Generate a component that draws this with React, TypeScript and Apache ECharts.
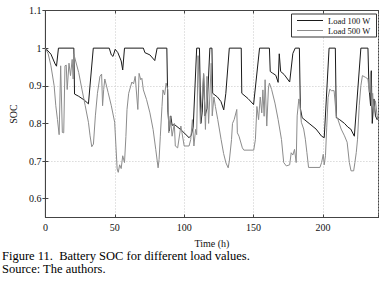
import React, { useEffect, useRef } from "react";
import * as echarts from "echarts";

const seriesNames = ["Load 100 W", "Load 500 W"];

// [time (h), SOC]
const load100: [number, number][] = [
  [0, 1.0], [4, 0.984], [7, 0.958], [8, 0.952], [9.4, 1.0], [20.5, 1.0], [21, 0.878], [24, 0.872],
  [28, 0.862], [31, 0.852], [34.5, 1.0], [46, 1.0], [47.5, 0.982], [48.7, 0.978], [50.3, 0.997],
  [52.2, 0.988], [54.6, 0.966], [55.7, 0.942], [57, 1.0], [70.6, 1.0], [71.7, 0.988], [75.3, 0.982],
  [78.8, 0.967], [80.5, 1.0], [87.5, 1.0], [88.3, 0.83], [89.3, 0.78], [90.3, 0.82], [91.3, 0.795],
  [93, 0.797], [98, 0.782], [103.5, 0.762], [105, 0.768], [106.5, 0.79], [109, 1.0], [111, 1.0],
  [112, 0.8], [113, 0.83], [114, 0.93], [115, 0.82], [116.5, 0.84], [118.5, 1.0], [120, 1.0],
  [120.5, 0.88], [124, 0.87], [126.5, 0.858], [128.5, 0.836], [130, 0.88], [132.5, 1.0], [141.1, 1.0],
  [141.5, 0.88], [146, 0.866], [150, 0.85], [154.3, 1.0], [161.4, 1.0], [162, 0.938], [163.5, 0.934],
  [166, 0.928], [167.7, 0.909], [168.5, 0.985], [169.5, 0.938], [172, 0.93], [176, 0.91],
  [178.3, 0.986], [180, 1.0], [183, 1.0], [183.7, 0.84], [185, 0.815], [190, 0.8], [195, 0.785],
  [199, 0.766], [200.9, 0.762], [204.4, 1.0], [208.9, 1.0], [209.6, 0.815], [212, 0.81],
  [215.5, 0.8], [218, 0.79], [220, 0.785], [222.6, 0.766], [227.3, 1.0], [232.4, 1.0], [233.1, 0.9],
  [234.3, 0.847], [234.8, 0.94], [235.5, 0.8], [236.7, 0.865], [237.8, 0.82], [239, 0.81], [240, 0.815],
];

const load500: [number, number][] = [
  [0, 1.0], [2, 0.985], [4, 0.953], [6.3, 0.9], [7.5, 0.847], [8.7, 0.81], [9.9, 0.77], [11, 0.953],
  [12.2, 0.776], [13.2, 0.775], [14.1, 0.953], [15, 0.955], [15.7, 0.89], [17, 0.96], [18.1, 0.927],
  [19.3, 0.97], [20, 0.918], [20.5, 0.984], [24, 0.935], [26.3, 0.891], [28.7, 0.847], [31, 0.803],
  [32.2, 0.767], [33.4, 0.738], [34.6, 0.745], [36, 0.82], [37.5, 0.88], [39.3, 0.925], [40.5, 0.931],
  [41.2, 0.847], [42, 0.89], [42.8, 0.918], [45.2, 0.882], [47.5, 0.847], [49.9, 0.803], [51.7, 0.679],
  [52.5, 0.67], [53.5, 0.69], [54.6, 0.68], [55.7, 0.714], [57, 0.696], [58, 0.765], [58.8, 0.837],
  [60, 0.88], [62.3, 0.91], [63.5, 0.905], [64.7, 0.925], [66.6, 0.837], [67.5, 0.933], [68.7, 0.916],
  [69.5, 0.92], [70.6, 0.889], [72.9, 0.863], [75.3, 0.828], [77.6, 0.784], [79.5, 0.731],
  [81.2, 0.682], [81.9, 0.704], [82.8, 0.766], [84, 0.845], [84.7, 0.889], [85.9, 0.876], [87, 0.907],
  [88.2, 0.889], [88.9, 0.775], [89.9, 0.819], [91.3, 0.766], [92.9, 0.8], [93.6, 0.74], [95.3, 0.735],
  [97.6, 0.793], [100, 0.74], [103.5, 0.74], [104.7, 0.757], [105.9, 0.81], [107, 0.74], [108.2, 0.784],
  [109, 0.77], [110, 0.98], [111.7, 0.8], [114, 0.933], [115.3, 0.784], [116.4, 0.925], [117.6, 0.8],
  [119.5, 0.96], [120.2, 0.82], [121.4, 0.87], [122.5, 0.845], [124.2, 0.81], [126.6, 0.757],
  [128.4, 0.72], [130.1, 0.695], [131.7, 0.682], [132.5, 0.7], [134.1, 0.757], [134.8, 0.8], [136, 0.81],
  [137.9, 0.837], [138.3, 0.775], [139.5, 0.766], [141.9, 0.735], [143, 0.729], [150.1, 0.729],
  [151.3, 0.757], [152.4, 0.845], [153.6, 0.81], [154.8, 0.87], [155.9, 0.828], [156.7, 0.889],
  [157.6, 0.819], [158.3, 0.916], [159.5, 0.793], [160.7, 0.894], [161.4, 0.907], [163, 0.89],
  [165.4, 0.854], [167.7, 0.81], [170.1, 0.757], [171.7, 0.696], [173.6, 0.687], [176, 0.69],
  [177.1, 0.722], [178.3, 0.716], [179.5, 0.731], [180.7, 0.696], [181.4, 0.82], [182.6, 0.865],
  [183.2, 0.858], [184.4, 0.803], [186.1, 0.785], [187.3, 0.758], [188.4, 0.723], [189.6, 0.683],
  [197.8, 0.683], [199, 0.696], [200.2, 0.718], [200.9, 0.69], [201.8, 0.714], [202.7, 0.79],
  [203.7, 0.869], [204.9, 0.891], [206.1, 0.887], [208, 0.887], [209.6, 0.82], [210.8, 0.81],
  [213.1, 0.785], [215.5, 0.767], [217.4, 0.75], [219, 0.696], [220.2, 0.674], [222.1, 0.674],
  [223, 0.696], [224, 0.723], [224.9, 0.758], [226.1, 0.847], [227.3, 0.9], [228.4, 0.927],
  [230.8, 0.922], [232.4, 0.918], [233.4, 0.882], [234.3, 0.935], [235, 0.847], [235.8, 0.88],
  [236.7, 0.83], [237.8, 0.86], [239, 0.82], [240, 0.81],
];

const xTickValues = [0, 50, 100, 150, 200];
const yTickValues = [0.6, 0.7, 0.8, 0.9, 1.0, 1.1];
const yTickLabels = ["0.6", "0.7", "0.8", "0.9", "1", "1.1"];
const captionLines = ["Figure 11.\u00a0 Battery SOC for different load values.", "Source: The authors."];
const xAxisTitle = "Time (h)";
const yAxisTitle = "SOC";

const FONT = "Liberation Serif";

export default function App() {
  const ref = useRef<HTMLDivElement>(null);
  useEffect(() => {
    if (!ref.current) return;
    const chart = echarts.init(ref.current, null, { renderer: "svg" });
    const gridColor = "#c8c8c8";
    const axisColor = "#444";
    const yLabel = (v: number) => {
      const i = yTickValues.findIndex((t) => Math.abs(t - v) < 1e-6);
      return i >= 0 ? yTickLabels[i] : "";
    };
    const commonY = { type: "value", min: 0.55, max: 1.1, interval: 0.05 };
    const commonX = { type: "value", min: 0, max: 240, interval: 50 };
    chart.setOption({
      animation: false,
      backgroundColor: "#ffffff",
      textStyle: { fontFamily: FONT },
      grid: {
        left: 38.5,
        right: 11.5,
        top: 10.5,
        bottom: 63.5,
        show: true,
        borderColor: axisColor,
        borderWidth: 1,
      },
      legend: {
        orient: "vertical",
        right: 13.5,
        top: 14,
        itemWidth: 26,
        itemHeight: 8,
        itemGap: 1,
        padding: [2, 6, 2, 5],
        borderColor: "#333",
        borderWidth: 1,
        backgroundColor: "#fff",
        itemStyle: { opacity: 0 },
        lineStyle: { width: 1 },
        textStyle: { fontFamily: FONT, fontSize: 8.5, color: "#111" },
        data: seriesNames,
      },
      xAxis: [
        {
          ...commonX,
          name: xAxisTitle,
          nameLocation: "middle",
          nameGap: 20.5,
          nameTextStyle: { fontFamily: FONT, fontSize: 10, color: "#111" },
          axisLine: { show: true, lineStyle: { color: axisColor, width: 1 } },
          axisTick: { show: true, inside: true, length: 3, lineStyle: { color: axisColor } },
          axisLabel: {
            fontFamily: FONT,
            fontSize: 10,
            color: "#111",
            margin: 5,
            formatter: (v: number) => (xTickValues.includes(v) ? String(v) : ""),
          },
          splitLine: { show: true, lineStyle: { color: gridColor, type: [1, 2], width: 1 } },
        },
        {
          ...commonX,
          position: "top",
          axisLine: { show: true, lineStyle: { color: axisColor, width: 1 } },
          axisTick: { show: true, inside: true, length: 3, lineStyle: { color: axisColor } },
          axisLabel: { show: false },
          splitLine: { show: false },
        },
      ],
      yAxis: [
        {
          ...commonY,
          name: yAxisTitle,
          nameLocation: "middle",
          nameGap: 22,
          nameRotate: 90,
          nameTextStyle: { fontFamily: FONT, fontSize: 10, color: "#111" },
          axisLine: { show: true, lineStyle: { color: axisColor, width: 1 } },
          axisTick: {
            show: true,
            inside: true,
            length: 3,
            customValues: yTickValues,
            lineStyle: { color: axisColor },
          },
          axisLabel: {
            fontFamily: FONT,
            fontSize: 10,
            color: "#111",
            margin: 4,
            formatter: yLabel,
          },
          splitLine: {
            show: true,
            lineStyle: { color: ["rgba(0,0,0,0)", gridColor], type: [1, 2], width: 1 },
          },
        },
        {
          ...commonY,
          position: "right",
          axisLine: { show: true, lineStyle: { color: axisColor, width: 1 } },
          axisTick: {
            show: true,
            inside: true,
            length: 3,
            customValues: yTickValues,
            lineStyle: { color: axisColor },
          },
          axisLabel: { show: false },
          splitLine: { show: false },
        },
      ],
      series: [
        {
          name: seriesNames[0],
          type: "line",
          data: load100,
          symbol: "none",
          lineStyle: { color: "#1a1a1a", width: 1 },
          itemStyle: { color: "#1a1a1a" },
        },
        {
          name: seriesNames[1],
          type: "line",
          data: load500,
          symbol: "none",
          lineStyle: { color: "#8c8c8c", width: 1 },
          itemStyle: { color: "#8c8c8c" },
        },
      ],
      graphic: captionLines.map((t, i) => ({
        type: "text",
        left: 2,
        top: 249 + i * 13,
        style: { text: t, fontFamily: FONT, fontSize: 12.5, fill: "#000" },
      })),
    });
    return () => chart.dispose();
  }, []);
  return (
    <div
      ref={ref}
      style={{ position: "absolute", left: 0, top: 0, width: 390, height: 281, background: "#fff" }}
    />
  );
}
